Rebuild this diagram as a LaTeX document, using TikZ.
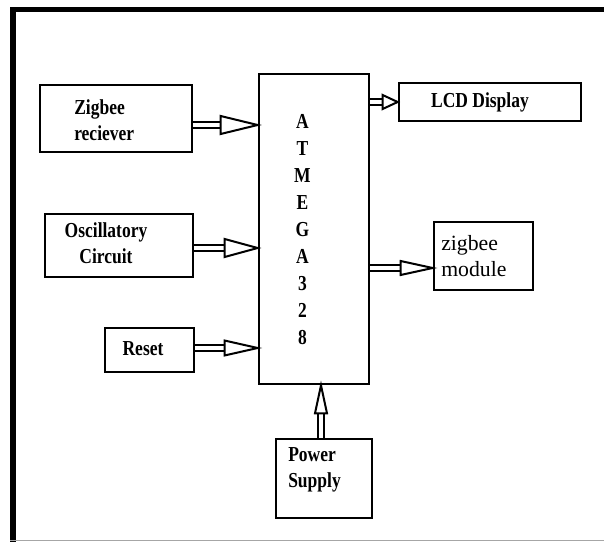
\documentclass[tikz,border=0pt]{standalone}
\usepackage{fontspec}
\setmainfont{Liberation Serif}
\newfontfamily\lbl[FakeStretch=0.82]{Liberation Serif}
\usetikzlibrary{calc}
\newcommand\harrow[4]{%
  \coordinate (hb) at ($(#2)!#3!(#1)$);
  \draw[shaft] (#1) -- (hb);
  \draw[headst] (#2) -- ($(hb)!#4!90:(#2)$) -- ($(hb)!#4!-90:(#2)$) -- cycle;
}
\begin{document}
\begin{tikzpicture}[x=0.75pt,y=-0.75pt,
  box/.style={draw=black,line width=2pt,rectangle,inner sep=0pt},
  txt/.style={font=\lbl\bfseries\fontsize{16}{19.5}\selectfont,inner sep=0pt},
  rtxt/.style={font=\fontsize{16.3}{19.5}\selectfont,inner sep=0pt},
  shaft/.style={line width=1.5pt,double=white,double distance=3pt},
  headst/.style={draw=black,fill=white,line width=1.5pt,line join=miter}]
\useasboundingbox (0,0) rectangle (604,542);
\fill[white] (0,0) rectangle (604,542);
% frame
\draw[line width=3.75pt] (10,9.5) -- (604,9.5);
\draw[line width=4.5pt] (13,7.5) -- (13,542);
\draw[line width=1.2pt,black!35] (10,540.5) -- (604,540.5);
% boxes
\node[box,minimum width=114pt,minimum height=50.25pt] (zr) at (116,118.5) {};
\node[box,minimum width=111pt,minimum height=47.25pt] (osc) at (119,245.5) {};
\node[box,minimum width=66.75pt,minimum height=33pt] (rst) at (149.5,350) {};
\node[box,minimum width=82.5pt,minimum height=232.5pt] (atm) at (314,229) {};
\node[box,minimum width=136.5pt,minimum height=28.5pt] (lcd) at (490,102) {};
\node[box,minimum width=74.25pt,minimum height=51pt] (zm) at (483.5,256) {};
\node[box,minimum width=72pt,minimum height=59.25pt] (ps) at (324,478.5) {};
% texts
\node[txt,align=left,anchor=west] (zrt) at (74,120) {Zigbee\\reciever};
\node[txt,align=center] (osct) at (106,243.5) {Oscillatory\\Circuit};
\node[txt] (rstt) at (143,349) {Reset};
\node[txt] (lcdt) at (480,102) {LCD Display};
\node[rtxt,align=left,anchor=west] (zmt) at (441,256.5) {zigbee\\module};
\node[txt,align=left,anchor=west] (pst) at (288,470) {Power\\Supply};
\node[txt,align=center,font=\lbl\bfseries\fontsize{16}{20.2}\selectfont] (atmt) at (302.5,229.5) {A\\T\\M\\E\\G\\A\\3\\2\\8};
% arrows
\coordinate (s1) at ($(zr.east)+(0,6.5)$);
\coordinate (e1) at (atm.west |- s1);
\harrow{s1}{e1}{27.75pt}{6.75pt}
\coordinate (s2) at ($(osc.east)+(0,2.5)$);
\coordinate (e2) at (atm.west |- s2);
\harrow{s2}{e2}{24.75pt}{6.75pt}
\coordinate (s3) at ($(rst.east)+(0,-2)$);
\coordinate (e3) at (atm.west |- s3);
\harrow{s3}{e3}{24.75pt}{5.6pt}
\coordinate (s4) at (atm.east |- lcd.west);
\harrow{s4}{lcd.west}{11.25pt}{5.25pt}
\coordinate (e5) at ($(zm.west)+(0,12)$);
\coordinate (s5) at (atm.east |- e5);
\harrow{s5}{e5}{24pt}{5.25pt}
\coordinate (s6) at ($(ps.north)+(-3,0)$);
\coordinate (e6) at (atm.south -| s6);
\harrow{s6}{e6}{21pt}{4.5pt}
\end{tikzpicture}
\end{document}
